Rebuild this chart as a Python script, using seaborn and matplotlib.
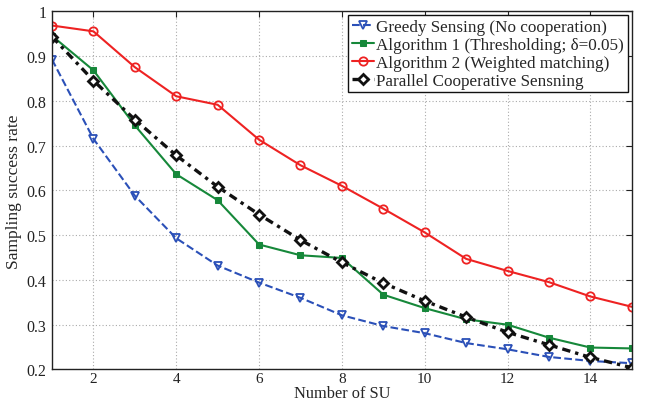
import matplotlib
matplotlib.use("Agg")
import matplotlib.pyplot as plt
import seaborn as sns
import numpy as np

num_su = [1, 2, 3, 4, 5, 6, 7, 8, 9, 10, 11, 12, 13, 14, 15]
greedy = [0.892, 0.715, 0.588, 0.493, 0.432, 0.394, 0.360, 0.321, 0.297, 0.281, 0.259, 0.245, 0.228, 0.219, 0.214]
alg1 = [0.945, 0.868, 0.745, 0.636, 0.578, 0.479, 0.455, 0.449, 0.367, 0.337, 0.312, 0.300, 0.271, 0.249, 0.247]
alg2 = [0.968, 0.955, 0.875, 0.810, 0.791, 0.713, 0.656, 0.610, 0.559, 0.506, 0.447, 0.420, 0.395, 0.363, 0.340]
parallel = [0.943, 0.845, 0.758, 0.678, 0.608, 0.546, 0.489, 0.439, 0.393, 0.353, 0.317, 0.283, 0.255, 0.227, 0.204]

labels = ["Greedy Sensing (No cooperation)",
          "Algorithm 1 (Thresholding; δ=0.05)",
          "Algorithm 2 (Weighted matching)",
          "Parallel Cooperative Sensning"]
x_ticks = [2, 4, 6, 8, 10, 12, 14]
y_ticks = [0.2, 0.3, 0.4, 0.5, 0.6, 0.7, 0.8, 0.9, 1.0]
y_tick_labels = ["0.2", "0.3", "0.4", "0.5", "0.6", "0.7", "0.8", "0.9", "1"]

sns.set_style("white")
plt.rcParams['font.family'] = ['Liberation Serif', 'DejaVu Serif']

fig = plt.figure(figsize=(6.46, 4.06), dpi=100)
ax = fig.add_axes([0.0805, 0.0875, 0.8975, 0.8825])

sns.lineplot(x=num_su, y=greedy, ax=ax, color="#2b50b8", linestyle="--", linewidth=1.5,
             marker="v", markersize=6, markerfacecolor="none", markeredgecolor="#2b50b8",
             markeredgewidth=1.3, label=labels[0])
sns.lineplot(x=num_su, y=alg1, ax=ax, color="#16883a", linestyle="-", linewidth=1.5,
             marker="s", markersize=3.8, markerfacecolor="#16883a", markeredgecolor="#16883a",
             label=labels[1])
sns.lineplot(x=num_su, y=alg2, ax=ax, color="#ee2222", linestyle="-", linewidth=1.5,
             marker="o", markersize=6, markerfacecolor="none", markeredgecolor="#ee2222",
             markeredgewidth=1.3, label=labels[2])
sns.lineplot(x=num_su, y=parallel, ax=ax, color="#111111", linestyle=(0, (2.5, 1.5, 1, 1.5)), linewidth=2.4,
             marker="D", markersize=5.5, markerfacecolor="white", markeredgecolor="#111111",
             markeredgewidth=2.0, label=labels[3])

ax.set_xlim(1, 15)
ax.set_ylim(0.2, 1.0)
ax.set_xticks(x_ticks)
ax.set_yticks(y_ticks)
ax.set_yticklabels(y_tick_labels)
ax.tick_params(direction="in", top=True, right=True, length=4, labelsize=11.5, colors="#222222")
ax.tick_params(axis="x", pad=2, labelsize=11)
ax.tick_params(axis="y", pad=4)
ax.grid(True, linestyle=(0, (1, 2)), color="#aaaaaa", linewidth=0.8)
for s in ax.spines.values():
    s.set_color("#222222")
    s.set_linewidth(1.0)

ax.set_xlabel("Number of SU", fontsize=11.8, labelpad=-0.5)
ax.set_ylabel("Sampling success rate", fontsize=12.6, labelpad=3)

leg = ax.legend(loc="upper right", fontsize=12.3, frameon=True, fancybox=False,
                handlelength=1.3, handletextpad=0.15, borderpad=0.2, labelspacing=0.12,
                borderaxespad=0.25, edgecolor="#111111")
leg.get_frame().set_linewidth(1.0)
leg.get_frame().set_alpha(1)

fig.savefig("out.png", dpi=100)
